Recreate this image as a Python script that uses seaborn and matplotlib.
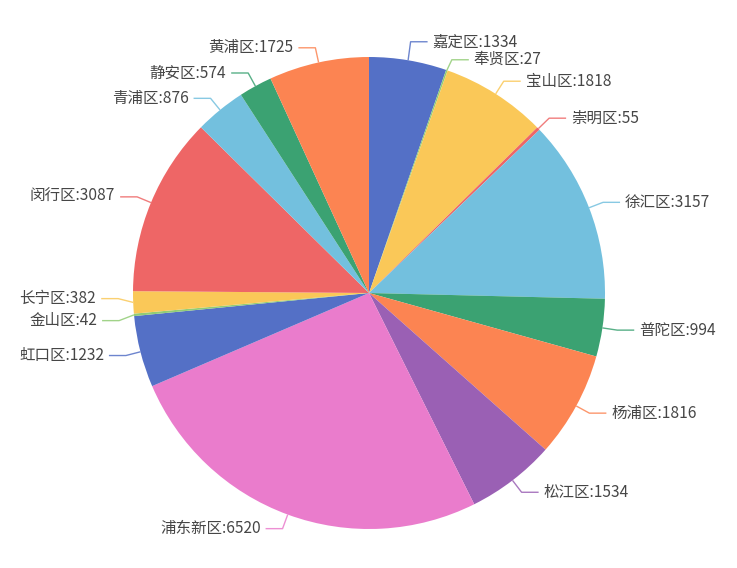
import numpy as np
import matplotlib
matplotlib.use("Agg")
import matplotlib.pyplot as plt
import seaborn as sns

# ---- data (clockwise from 12 o'clock) ----
districts = ["嘉定区", "奉贤区", "宝山区", "崇明区", "徐汇区", "普陀区", "杨浦区", "松江区",
             "浦东新区", "虹口区", "金山区", "长宁区", "闵行区", "青浦区", "静安区", "黄浦区"]
counts = [1334, 27, 1818, 55, 3157, 994, 1816, 1534,
          6520, 1232, 42, 382, 3087, 876, 574, 1725]
palette = ["#5470c6", "#91cc75", "#fac858", "#ee6666", "#73c0de",
           "#3ba272", "#fc8452", "#9a60b4", "#ea7ccc"]

sns.set_theme(style="white")
plt.rcParams["font.family"] = ["Noto Sans CJK SC", "DejaVu Sans"]

W, H = 737, 568
fig = plt.figure(figsize=(W / 100, H / 100), dpi=100)
ax = fig.add_axes([0, 0, 1, 1])

cx, cy, R = 369, H - 293, 236
colors = [palette[i % len(palette)] for i in range(len(counts))]
ax.pie(counts, colors=colors, startangle=90, counterclock=False,
       center=(cx, cy), radius=R, wedgeprops=dict(linewidth=0),
       frame=True)
ax.set_xlim(0, W)
ax.set_ylim(0, H)
ax.set_aspect("equal")
ax.axis("off")

vals = np.array(counts, dtype=float)
tot = vals.sum()
cum = np.cumsum(vals) - vals / 2
theta = cum / tot * 2 * np.pi  # clockwise from top

r1 = R + 15
items = []
for i, t in enumerate(theta):
    ex, ey = cx + R * np.sin(t), cy + R * np.cos(t)
    bx, by = cx + r1 * np.sin(t), cy + r1 * np.cos(t)
    side = 1 if np.sin(t) >= 0 else -1
    items.append(dict(i=i, ex=ex, ey=ey, bx=bx, by=by, ly=by, side=side))


def relax(group, gap):
    group.sort(key=lambda d: -d["by"])
    for _ in range(200):
        moved = False
        for a, b in zip(group[:-1], group[1:]):
            d = a["ly"] - b["ly"]
            if d < gap:
                s = (gap - d) / 2
                a["ly"] += s
                b["ly"] -= s
                moved = True
        if not moved:
            break


relax([d for d in items if d["side"] > 0], 18)
relax([d for d in items if d["side"] < 0], 22)

for d in items:
    c = colors[d["i"]]
    hx = d["bx"] + d["side"] * 17
    ax.plot([d["ex"], d["bx"], hx], [d["ey"], d["ly"], d["ly"]],
            color=c, lw=1, alpha=0.85, solid_capstyle="butt")
    ax.text(hx + d["side"] * 5, d["ly"], f"{districts[d['i']]}:{counts[d['i']]}",
            ha="left" if d["side"] > 0 else "right", va="center",
            fontsize=11.2, color="#464646")

fig.savefig("out.png", dpi=100, facecolor="white")
